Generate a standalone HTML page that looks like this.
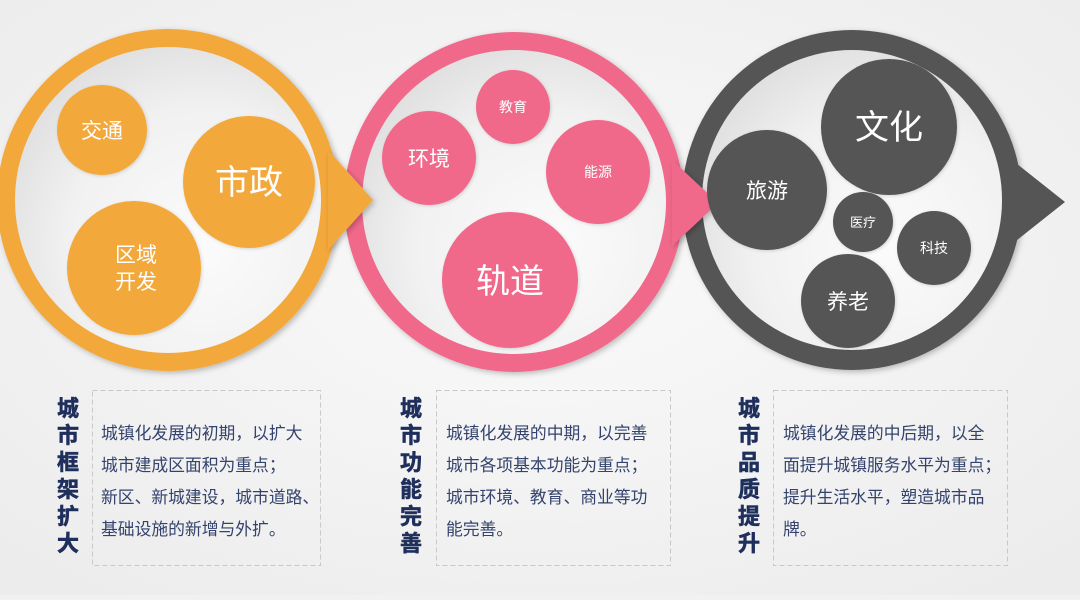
<!DOCTYPE html>
<html><head><meta charset="utf-8">
<style>
html,body{margin:0;padding:0;}
body{width:1080px;height:595px;overflow:hidden;background:#f1f1f1;font-family:"Liberation Sans","Noto Sans CJK SC",sans-serif;}
</style></head><body>
<svg width="1080" height="595" viewBox="0 0 1080 595" xmlns="http://www.w3.org/2000/svg" font-family="Liberation Sans, Noto Sans CJK SC, sans-serif">
<defs>
<radialGradient id="bg" cx="0.5" cy="0.45" r="0.7">
<stop offset="0" stop-color="#fafafa"/><stop offset="1" stop-color="#ececec"/>
</radialGradient>
<radialGradient id="inner" cx="0.62" cy="0.65" r="0.75">
<stop offset="0" stop-color="#fbfbfb"/><stop offset="0.6" stop-color="#f1f1f1"/><stop offset="1" stop-color="#dcdcdc"/>
</radialGradient>
<filter id="sh" x="-20%" y="-20%" width="140%" height="140%"><feDropShadow dx="2" dy="2" stdDeviation="3" flood-color="#000" flood-opacity="0.25"/></filter>
<filter id="sh2" x="-20%" y="-20%" width="140%" height="140%"><feDropShadow dx="1" dy="1" stdDeviation="1.5" flood-color="#000" flood-opacity="0.15"/></filter>
</defs>
<rect width="1080" height="595" fill="url(#bg)"/>

<circle cx="168" cy="200" r="171" fill="#f3a83b" filter="url(#sh)"/>
<circle cx="168" cy="200" r="153" fill="url(#inner)"/>
<g fill="#f3a83b" filter="url(#sh2)">
<circle cx="102" cy="130" r="45"/>
<circle cx="249" cy="182" r="66"/>
<circle cx="134" cy="268" r="67"/>
</g>
<g fill="#fff" text-anchor="middle">
<text x="102" y="138" font-size="21">交通</text>
<text x="249" y="194" font-size="34">市政</text>
<text x="136" y="262" font-size="21">区域</text>
<text x="136" y="289" font-size="21">开发</text>
</g>

<circle cx="514" cy="202" r="170" fill="#f0698b" filter="url(#sh)"/>
<circle cx="514" cy="202" r="152" fill="url(#inner)"/>
<g fill="#f0698b" filter="url(#sh2)">
<circle cx="513" cy="107" r="37"/>
<circle cx="429" cy="158" r="47"/>
<circle cx="598" cy="172" r="52"/>
<circle cx="510" cy="280" r="68"/>
</g>
<g fill="#fff" text-anchor="middle">
<text x="513" y="112" font-size="14">教育</text>
<text x="429" y="166" font-size="21">环境</text>
<text x="598" y="177" font-size="14">能源</text>
<text x="510" y="293" font-size="34">轨道</text>
</g>

<polygon points="328,150 373,200 328,250" fill="#f3a83b" filter="url(#sh)"/>

<circle cx="852" cy="200" r="170" fill="#555555" filter="url(#sh)"/>
<circle cx="852" cy="200" r="150" fill="url(#inner)"/>

<polygon points="672,160 718,203 672,246" fill="#f0698b" filter="url(#sh)"/>

<g fill="#555555" filter="url(#sh2)">
<circle cx="889" cy="127" r="68"/>
<circle cx="767" cy="190" r="60"/>
<circle cx="863" cy="222" r="30"/>
<circle cx="934" cy="248" r="37"/>
<circle cx="848" cy="301" r="47"/>
</g>
<g fill="#fff" text-anchor="middle">
<text x="889" y="139" font-size="34">文化</text>
<text x="767" y="198" font-size="21">旅游</text>
<text x="863" y="227" font-size="13">医疗</text>
<text x="934" y="253" font-size="14">科技</text>
<text x="848" y="309" font-size="21">养老</text>
</g>

<polygon points="1012,160 1065,202 1012,244" fill="#555555"/>

<g fill="none" stroke="#c8c8c8" stroke-width="1" stroke-dasharray="5,3">
<rect x="92.5" y="390.5" width="228" height="175"/>
<rect x="436.5" y="390.5" width="234" height="175"/>
<rect x="773.5" y="390.5" width="234" height="175"/>
</g>

<g fill="#1f2f5c" font-size="22" font-weight="bold" text-anchor="middle" stroke="#1f2f5c" stroke-width="0.6">
<text x="68" y="416">城</text><text x="68" y="443">市</text><text x="68" y="470">框</text><text x="68" y="497">架</text><text x="68" y="524">扩</text><text x="68" y="551">大</text>
<text x="411" y="416">城</text><text x="411" y="443">市</text><text x="411" y="470">功</text><text x="411" y="497">能</text><text x="411" y="524">完</text><text x="411" y="551">善</text>
<text x="749" y="416">城</text><text x="749" y="443">市</text><text x="749" y="470">品</text><text x="749" y="497">质</text><text x="749" y="524">提</text><text x="749" y="551">升</text>
</g>

<g fill="#34436d" font-size="16.8">
<text x="101" y="439">城镇化发展的初期，以扩大</text>
<text x="101" y="471">城市建成区面积为重点；</text>
<text x="101" y="503">新区、新城建设，城市道路、</text>
<text x="101" y="535">基础设施的新增与外扩。</text>
<text x="446" y="439">城镇化发展的中期，以完善</text>
<text x="446" y="471">城市各项基本功能为重点；</text>
<text x="446" y="503">城市环境、教育、商业等功</text>
<text x="446" y="535">能完善。</text>
<text x="783" y="439">城镇化发展的中后期，以全</text>
<text x="783" y="471">面提升城镇服务水平为重点；</text>
<text x="783" y="503">提升生活水平，塑造城市品</text>
<text x="783" y="535">牌。</text>
</g>
</svg>
</body></html>
